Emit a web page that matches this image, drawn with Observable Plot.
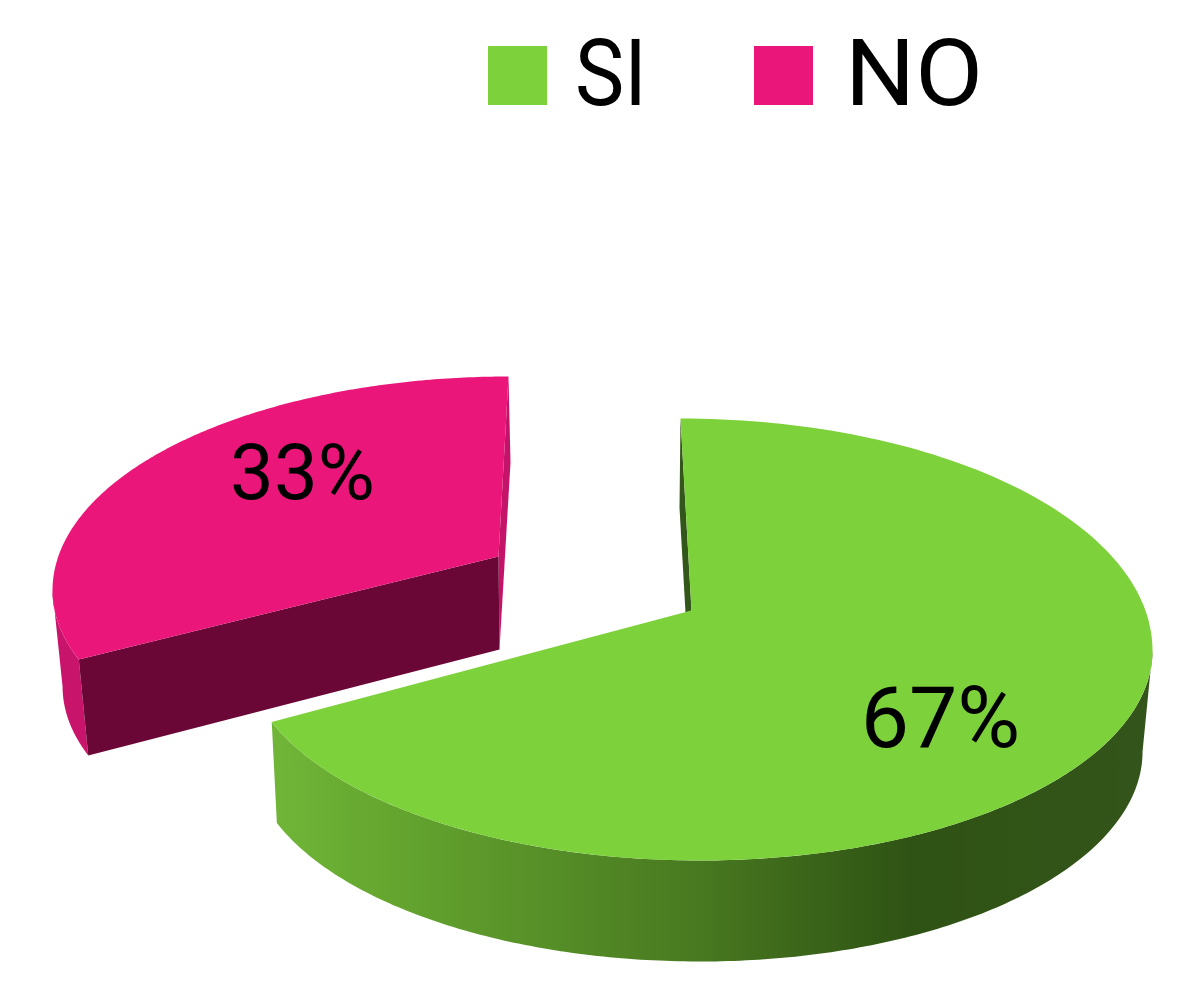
<!DOCTYPE html>
<html><head><meta charset="utf-8">
<script src="https://cdn.jsdelivr.net/npm/d3@7"></script>
<script src="https://cdn.jsdelivr.net/npm/@observablehq/plot@0.6"></script>
<style>
html,body{margin:0;background:#fff;overflow:hidden}
#legend{position:relative;height:130px;width:1201px;font-family:Roboto,sans-serif;font-size:92px;line-height:1;color:#000}
#legend i{position:absolute;top:46px;width:59px;height:59px;display:block}
#legend span{position:absolute;top:28px;transform-origin:0 50%}
svg{display:block}
</style></head><body>
<div id="legend"></div>
<div id="chart"></div>
<script>
const categories = ["SI", "NO"];
const shares = [67, 33];
const labels = ["67%", "33%"];
const topColors = ["#7dd13a", "#ea167a"];

// Drawing settings of the two exploded slices: the rim's four extreme points,
// the slice apex, the angle normalisation, and the wall depth / perspective shrink.
const W = 1201, H = 984, legendH = 130;
const pieces = [
  {top: [680, 418], right: [1152, 650], bottom: [700, 860], left: [244, 650],
   apex: [691, 610], nx: 462, ny: 210, start: -1.5, depth: 101, shrinkL: .988, shrinkR: .978},
  {top: [508, 376], right: [950, 590], bottom: [490, 792], left: [52, 590],
   apex: [498, 556], nx: 450, ny: 214, start: 242.7, depth: 96, shrinkL: .977, shrinkR: .977}
];

const mod360 = a => ((a % 360) + 360) % 360;
// rim point for parameter t (degrees clockwise from top); each quadrant is its own quarter ellipse
const rim = (p, t) => {
  const T = mod360(t), r = T * Math.PI / 180;
  const side = T < 180 ? p.right : p.left, end = (T < 90 || T >= 270) ? p.top : p.bottom;
  const cx = end[0], cy = side[1];
  return [cx + Math.abs(side[0] - cx) * Math.sin(r), cy - Math.abs(end[1] - cy) * Math.cos(r)];
};
// parameter t of the rim point seen from the apex at slice angle deg
const paramOf = (p, deg) => {
  const want = mod360(deg);
  return d3.least(d3.range(0, 360, .05), t => {
    const q = rim(p, t);
    const a = mod360(Math.atan2((q[0] - p.apex[0]) / p.nx, (p.apex[1] - q[1]) / p.ny) * 180 / Math.PI);
    const d = Math.abs(a - want);
    return Math.min(d, 360 - d);
  });
};
const low = (p, q) => {
  const xc = p.bottom[0];
  return [xc + (q[0] - xc) * (q[0] < xc ? p.shrinkL : p.shrinkR), q[1] + p.depth];
};
const arc = (p, t0, t1, n = 200) => {
  const b = t1 < t0 ? t1 + 360 : t1;
  return d3.range(n + 1).map(i => rim(p, t0 + (b - t0) * i / n));
};

const polys = [];
const add = (id, fill, pts) => pts.forEach(q => polys.push({id, fill, x: q[0], y: q[1]}));

const [g, k] = pieces;
const gT0 = paramOf(g, g.start), gT1 = paramOf(g, g.start + shares[0] * 3.6);
const kT0 = paramOf(k, k.start), kT1 = paramOf(k, k.start + shares[1] * 3.6);

// pink slice: back sliver, outer wall, cut face, top
const kS = rim(k, kT1), kE = rim(k, kT0), kA = k.apex, kAL = [k.apex[0] + 1, k.apex[1] + 93];
add("k-back", "#c4146a", [kS, [kS[0] + 2, kS[1] + 86], kAL, kA]);
const kO = arc(k, kT0, 270);
add("k-wall", "#c8146a", [...kO, ...kO.map(q => low(k, q)).reverse()]);
add("k-cut", "#6b0736", [kA, kE, low(k, kE), kAL]);
add("k-top", topColors[1], [kA, ...arc(k, kT0, kT1)]);

// green slice: inner sliver, outer wall, top
const gS = rim(g, gT0), gA = g.apex;
add("g-back", "#33561a", [gS, [gS[0] - 1, gS[1] + 89], [gA[0] - 6, gA[1] + 2], gA]);
const gO = arc(g, 90, gT1);
add("g-wall", "url(#wall)", [...gO, ...gO.map(q => low(g, q)).reverse()]);
add("g-top", topColors[0], [gA, ...arc(g, gT0, gT1)]);

const texts = [
  {t: labels[0], x: 940, y: 719, size: 86},
  {t: labels[1], x: 302, y: 474, size: 78}
];

const defs = () => {
  const s = d3.create("svg:defs");
  const lg = s.append("linearGradient").attr("id", "wall")
    .attr("gradientUnits", "userSpaceOnUse").attr("x1", 277).attr("x2", 1142).attr("y1", 0).attr("y2", 0);
  [[0, "#70b538"], [.11, "#66a830"], [.49, "#487820"], [.73, "#2f5314"], [1, "#33541a"]]
    .forEach(([o, c]) => lg.append("stop").attr("offset", o).attr("stop-color", c));
  return s.node();
};

const leg = d3.select("#legend");
[[488, 575, .9], [754, 845, 1.07]].forEach(([sx, tx, stretch], i) => {
  leg.append("i").style("left", sx + "px").style("background", topColors[i]);
  leg.append("span").style("left", tx + "px").style("transform", `scaleX(${stretch})`).text(categories[i]);
});

const ids = [...new Set(polys.map(d => d.id))];
const chart = Plot.plot({
  width: W, height: H - legendH,
  margin: 0,
  x: {domain: [0, W], range: [0, W], axis: null},
  y: {domain: [legendH, H], range: [0, H - legendH], axis: null},
  style: {background: "#fff"},
  marks: [
    defs,
    ...ids.map(id => {
      const d = polys.filter(q => q.id === id);
      return Plot.line(d, {x: "x", y: "y", fill: d[0].fill, stroke: "none", curve: "linear-closed"});
    }),
    Plot.text(texts, {x: "x", y: "y", text: "t", fontSize: "size", fontFamily: "Roboto", fill: "#000"})
  ]
});
document.getElementById("chart").append(chart);
</script>
</body></html>
